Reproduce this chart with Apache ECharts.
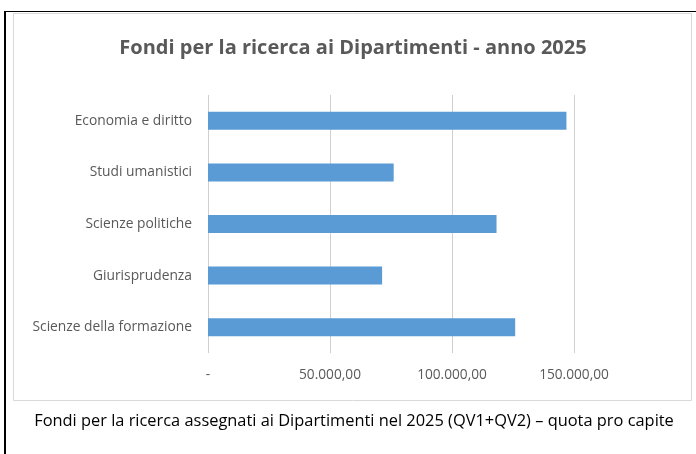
<!DOCTYPE html>
<html>
<head>
<meta charset="utf-8">
<script src="https://cdn.jsdelivr.net/npm/echarts@6/dist/echarts.min.js"></script>
<style>
  html, body { margin: 0; padding: 0; background: #fff; }
  #chart { width: 696px; height: 454px; }
</style>
</head>
<body>
<div id="chart"></div>
<script>
const titleText = 'Fondi per la ricerca ai Dipartimenti - anno 2025';
const captionText = 'Fondi per la ricerca assegnati ai Dipartimenti nel 2025 (QV1+QV2) – quota pro capite';
const departments = ['Economia e diritto', 'Studi umanistici', 'Scienze politiche', 'Giurisprudenza', 'Scienze della formazione'];
const funds = [146900, 76100, 118250, 71350, 125900];
const xTicks = [0, 50000, 100000, 150000];

const font = '"Open Sans", sans-serif';
const grey = '#595959';

function fmt(v) {
  if (v === 0) return '-';
  return v.toLocaleString('de-DE', { minimumFractionDigits: 2, maximumFractionDigits: 2 });
}

const chart = echarts.init(document.getElementById('chart'), null, { renderer: 'canvas' });
chart.setOption({
  backgroundColor: '#fff',
  animation: false,
  textStyle: { fontFamily: font },
  graphic: [
    // outer table lines
    { type: 'rect', shape: { x: 4, y: 11, width: 692, height: 1 }, style: { fill: '#000' } },
    { type: 'rect', shape: { x: 4, y: 11, width: 2, height: 443 }, style: { fill: '#000' } },
    // chart frame
    { type: 'rect', shape: { x: 13.5, y: 13.5, width: 678, height: 387 }, style: { fill: 'none', stroke: '#d9d9d9', lineWidth: 1 } },
    { type: 'text', x: 353, y: 48, style: { text: titleText, fill: grey, font: 'bold 20px ' + font, textAlign: 'center', textVerticalAlign: 'middle' } },
    { type: 'text', x: 354, y: 421, style: { text: captionText, fill: '#000', font: '16.4px ' + font, textAlign: 'center', textVerticalAlign: 'middle' } }
  ],
  grid: { left: 208, right: 122, top: 95, bottom: 101 },
  xAxis: {
    type: 'value',
    min: xTicks[0],
    max: xTicks[xTicks.length - 1],
    interval: xTicks[1] - xTicks[0],
    axisLine: { show: false },
    axisTick: { show: false },
    axisLabel: { color: grey, fontSize: 13.7, fontFamily: font, margin: 15, formatter: fmt },
    splitLine: { lineStyle: { color: '#d0d0d0', width: 1 } }
  },
  yAxis: {
    type: 'category',
    inverse: true,
    data: departments,
    axisLine: { show: false },
    axisTick: { show: false },
    axisLabel: { color: grey, fontSize: 13.8, fontFamily: font, margin: 16 }
  },
  series: [{
    type: 'bar',
    data: funds,
    barWidth: 18,
    itemStyle: { color: '#5b9bd5' }
  }]
});
</script>
</body>
</html>
